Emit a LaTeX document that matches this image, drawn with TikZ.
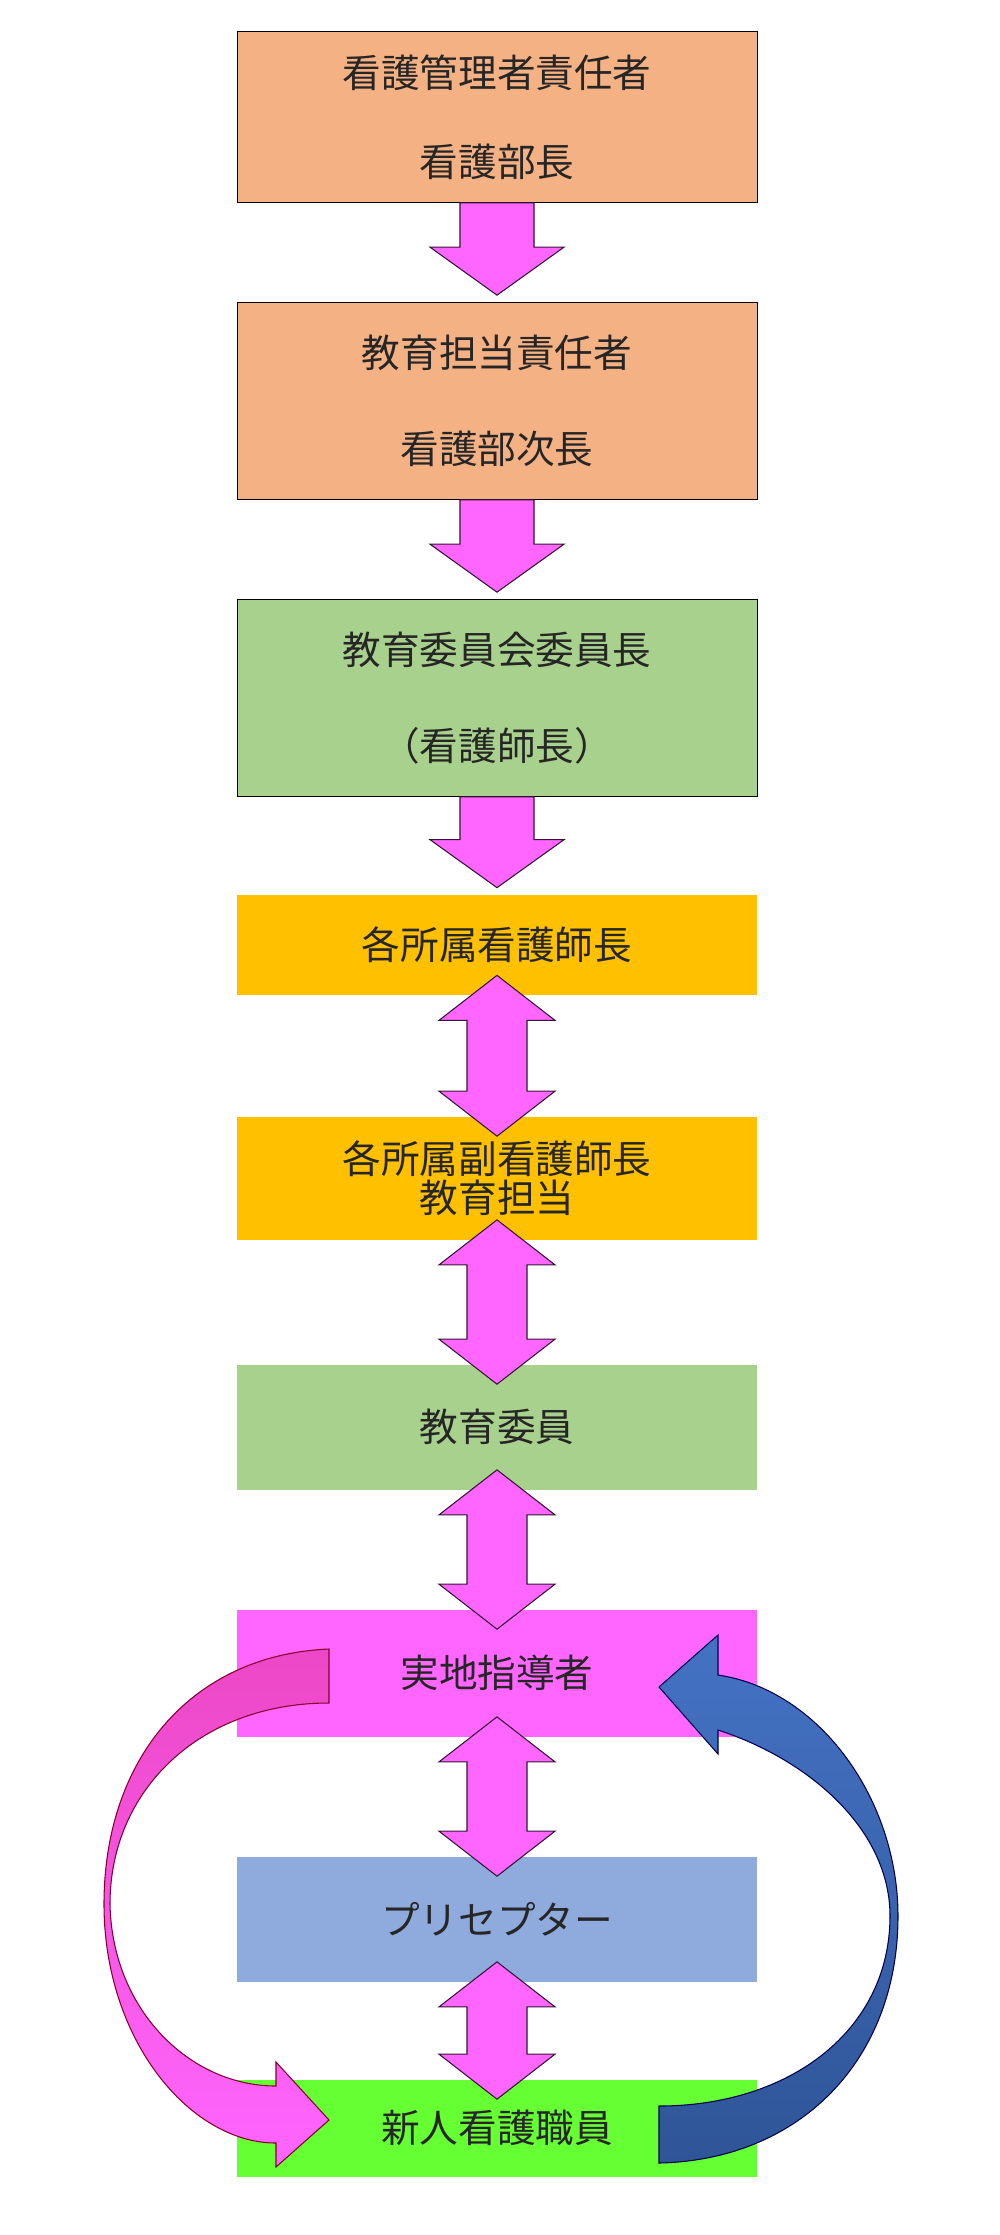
\documentclass[tikz,border=0pt]{standalone}
\usepackage{fontspec}
\setmainfont{Noto Sans CJK JP}
\usetikzlibrary{calc}
\definecolor{salmon}{HTML}{F4B183}
\definecolor{sage}{HTML}{A9D18E}
\definecolor{amber}{HTML}{FFC000}
\definecolor{pinkish}{HTML}{FF66FF}
\definecolor{steel}{HTML}{8FAADC}
\definecolor{lime}{HTML}{66FF33}
\definecolor{txt}{HTML}{262626}
\tikzset{x=0.02cm, y=-0.02cm, font=\fontsize{22}{25}\selectfont}
\tikzset{box/.style={rectangle, minimum width=10.4cm, text width=10cm, align=center, text=txt, inner sep=0pt}}
\tikzset{blockarrow/.style={fill=pinkish, draw=black!80!pinkish, line width=0.6pt, line join=miter}}
\newcommand{\downblock}[2]{%
  \draw [blockarrow] ($(#1.south)+(-37,0)$) -- ($(#1.south)+(37,0)$) -- ($(#2.north)+(37,-55)$)
    -- ($(#2.north)+(67,-55)$) -- ($(#2.north)+(0,-7)$) -- ($(#2.north)+(-67,-55)$)
    -- ($(#2.north)+(-37,-55)$) -- cycle;}
\newcommand{\bothblock}[2]{%
  \draw [blockarrow] ($(#1.south)+(0,-20)$) -- ($(#1.south)+(58,25)$) -- ($(#1.south)+(30,25)$)
    -- ($(#2.north)+(30,-25)$) -- ($(#2.north)+(58,-25)$) -- ($(#2.north)+(0,20)$)
    -- ($(#2.north)+(-58,-25)$) -- ($(#2.north)+(-30,-25)$) -- ($(#1.south)+(-30,25)$)
    -- ($(#1.south)+(-58,25)$) -- cycle;}

\begin{document}
\begin{tikzpicture}
    \useasboundingbox [fill=white] (0,0) rectangle (1000,2235);
    % boxes
    \node [box, draw=black, fill=salmon, minimum height=3.42cm] (chief) at (497,117) {看護管理者責任者\\[0.9cm]看護部長};
    \node [box, draw=black, fill=salmon, minimum height=3.94cm] (edu) at (497,401) {教育担当責任者\\[1.05cm]看護部次長};
    \node [box, draw=black, fill=sage, minimum height=3.94cm] (comm) at (497,698) {教育委員会委員長\\[1.05cm]（看護師長）};
    \node [box, fill=amber, minimum height=2cm] (head) at (497,945) {各所属看護師長};
    \node [box, fill=amber, minimum height=2.46cm] (deputy) at (497,1178) {各所属副看護師長\\[-0.1cm]教育担当};
    \node [box, fill=sage, minimum height=2.5cm] (member) at (497,1427) {教育委員};
    \node [box, fill=pinkish, minimum height=2.54cm] (instr) at (497,1673) {実地指導者};
    \node [box, fill=steel, minimum height=2.5cm] (precep) at (497,1919) {プリセプター};
    \node [box, fill=lime, minimum height=1.94cm] (novice) at (497,2128) {新人看護職員};

    % arrows between boxes
    \downblock{chief}{edu}
    \downblock{edu}{comm}
    \downblock{comm}{head}
    \bothblock{head}{deputy}
    \bothblock{deputy}{member}
    \bothblock{member}{instr}
    \bothblock{instr}{precep}
    \bothblock{precep}{novice}

    % curved arrows
    \draw [top color=pinkish!70!purple, bottom color=pinkish, draw=purple!70!black, line width=0.6pt]
      (329,1649) .. controls (190,1655) and (104,1760) .. (104,1904)
      .. controls (104,2040) and (190,2143) .. (276,2143) -- (276,2167) -- (329,2120) -- (276,2062) -- (276,2086)
      .. controls (190,2086) and (112,2010) .. (110,1904)
      .. controls (110,1790) and (200,1703) .. (329,1703) -- cycle;
    \draw [draw=blue!30!black, line width=0.6pt,
           top color={rgb,255:red,68;green,114;blue,196}, bottom color={rgb,255:red,47;green,85;blue,151}]
      (659,2163) .. controls (800,2160) and (898,2060) .. (898,1916)
      .. controls (898,1800) and (820,1690) .. (718,1675) -- (718,1635) -- (659,1687) -- (718,1754) -- (718,1730)
      .. controls (810,1760) and (890,1830) .. (890,1916)
      .. controls (890,2030) and (790,2106) .. (659,2106) -- cycle;
\end{tikzpicture}
\end{document}
